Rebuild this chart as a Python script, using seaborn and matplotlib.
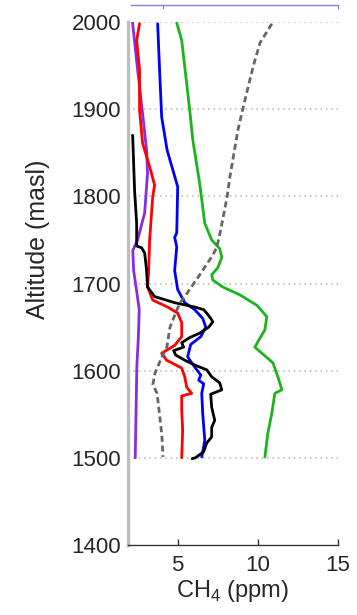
import matplotlib
matplotlib.use("Agg")
import matplotlib.pyplot as plt
import seaborn as sns
import pandas as pd

# ---------------- data ----------------
purple_alt = [2000, 1950, 1900, 1853, 1827, 1781, 1750, 1738, 1715, 1690, 1670, 1640, 1604, 1550, 1500]
purple_ch4 = [2.18, 2.47, 2.78, 3.06, 3.12, 2.94, 2.50, 2.20, 2.25, 2.45, 2.60, 2.55, 2.45, 2.40, 2.35]

red_alt = [1998, 1979, 1945, 1899, 1861, 1834, 1813, 1799, 1750, 1715, 1696, 1681, 1673, 1666,
           1655, 1639, 1629, 1620, 1612, 1603, 1593, 1581, 1574, 1571, 1555, 1532, 1500]
red_ch4 = [2.62, 2.44, 2.62, 2.62, 2.81, 3.25, 3.56, 3.44, 3.25, 3.19, 3.12, 3.44, 4.37, 5.00,
           5.25, 5.25, 4.81, 4.00, 4.31, 5.25, 5.44, 5.56, 5.87, 5.25, 5.25, 5.31, 5.25]

blue_alt = [1998, 1945, 1891, 1853, 1811, 1758, 1753, 1742, 1715, 1693, 1678, 1670, 1660, 1650,
            1639, 1630, 1616, 1609, 1601, 1595, 1589, 1585, 1574, 1551, 1520, 1501]
blue_ch4 = [3.75, 3.87, 4.00, 4.34, 5.00, 4.94, 4.81, 4.94, 4.81, 5.00, 5.44, 6.06, 6.56, 6.75,
            6.44, 5.81, 5.62, 5.87, 6.19, 6.44, 6.31, 6.62, 6.50, 6.56, 6.69, 6.50]

black_alt = [1870, 1807, 1769, 1743, 1741, 1735, 1715, 1696, 1685, 1678, 1673, 1670, 1666, 1660,
             1656, 1650, 1643, 1638, 1632, 1627, 1623, 1618, 1612, 1606, 1601, 1593, 1586, 1578,
             1573, 1558, 1543, 1535, 1524, 1517, 1507, 1500, 1499]
black_ch4 = [2.19, 2.31, 2.44, 2.44, 2.75, 2.94, 3.06, 3.12, 3.56, 4.81, 6.06, 6.62, 6.81, 7.06,
             7.19, 6.94, 6.37, 5.75, 5.25, 5.37, 4.75, 4.87, 5.44, 6.12, 6.81, 7.12, 7.62, 7.75,
             7.06, 7.12, 7.31, 7.12, 7.12, 6.81, 6.62, 6.10, 5.90]

green_alt = [1999, 1979, 1899, 1865, 1815, 1769, 1750, 1740, 1730, 1718, 1710, 1704, 1696, 1687,
             1675, 1662, 1647, 1627, 1620, 1609, 1593, 1578, 1574, 1551, 1528, 1501]
green_ch4 = [4.94, 5.25, 5.75, 5.94, 6.37, 6.69, 7.12, 7.62, 7.75, 7.50, 7.12, 7.19, 7.81, 8.87,
             9.94, 10.56, 10.44, 9.81, 10.25, 10.94, 11.25, 11.50, 11.06, 10.87, 10.62, 10.44]

# dashed profile on the top (blue) axis
co2_alt = [1998, 1976, 1948, 1902, 1876, 1822, 1799, 1758, 1742, 1733, 1719, 1707, 1689, 1678,
           1670, 1650, 1627, 1616, 1597, 1584, 1574, 1547, 1524, 1501]
co2_val = [431.1, 427.7, 425.7, 422.9, 421.4, 419.1, 418.3, 416.3, 415.4, 414.3, 412.0, 410.0,
           406.9, 404.9, 404.0, 402.0, 401.1, 399.7, 397.7, 397.1, 398.3, 399.1, 399.7, 400.0]

y_ticks = [1400, 1500, 1600, 1700, 1800, 1900, 2000]
x_ticks = [5, 10, 15]
top_ticks = [400, 450]

# ---------------- style ----------------
sns.set_style("white")
plt.rcParams['font.family'] = ['Liberation Sans', 'DejaVu Sans']
plt.rcParams['mathtext.fontset'] = 'custom'
plt.rcParams['mathtext.rm'] = 'Liberation Sans'

W, H = 357, 615
fig = plt.figure(figsize=(W / 100, H / 100), dpi=100)
L, R, T, B = 128, 338, 22, 545
ax = fig.add_axes([L / W, 1 - B / H, (R - L) / W, (B - T) / H])

series = [
    (purple_ch4, purple_alt, '#8a2be2'),
    (red_ch4, red_alt, '#ff0000'),
    (blue_ch4, blue_alt, '#0000ff'),
    (black_ch4, black_alt, '#000000'),
    (green_ch4, green_alt, '#1cb41c'),
]

ax.set_xlim(1.9, 15)
ax.set_ylim(1400, 2000)

for g in [1500, 1600, 1700, 1800, 1900, 2000]:
    ax.axhline(g, color='#b5b5b5', lw=1.1, ls=(0, (1, 2.5)), zorder=0)

for xs, ys, c in series:
    df = pd.DataFrame({'ch4': xs, 'alt': ys})
    sns.lineplot(data=df, x='ch4', y='alt', sort=False, estimator=None,
                 color=c, lw=2.0, ax=ax, zorder=3)

ax.set_xticks(x_ticks)
ax.set_yticks(y_ticks)
ax.tick_params(axis='x', direction='in', length=4, width=1, color='#333333',
               labelsize=16, pad=7, top=False, bottom=True)
ax.tick_params(axis='y', length=0, labelsize=16, pad=5)

for s in ['top', 'right']:
    ax.spines[s].set_visible(False)
ax.spines['left'].set_color('#bdbdbd')
ax.spines['left'].set_linewidth(2.4)
ax.spines['bottom'].set_color('#333333')
ax.spines['bottom'].set_linewidth(1.0)

ax.set_xlabel('CH$_4$ (ppm)', fontsize=17, labelpad=2)
ax.set_ylabel('Altitude (masl)', fontsize=18)
ax.yaxis.set_label_coords(-0.37, 0.585)

# top axis for dashed profile
ax2 = ax.twiny()
ax2.set_xlim(390, 450)
ax2.set_ylim(1400, 2000)
df2 = pd.DataFrame({'co2': co2_val, 'alt': co2_alt})
sns.lineplot(data=df2, x='co2', y='alt', sort=False, estimator=None,
             color='#666666', lw=2.0, ls=(0, (2.2, 1.3)), ax=ax2, zorder=2)
ax2.set_xlabel('')
ax2.set_ylabel('')
ax2.set_xticks(top_ticks)
for s in ['left', 'right', 'bottom']:
    ax2.spines[s].set_visible(False)
ax2.spines['top'].set_position(('outward', 12.5))
ax2.spines['top'].set_color('#8080d0')
ax2.spines['top'].set_linewidth(1.0)
ax2.spines['top'].set_bounds(390.8, 450)
ax2.tick_params(axis='x', direction='in', length=3, color='#8080d0',
                labelcolor='#3333cc', labelsize=16, pad=3, top=True, bottom=False)
ax2.tick_params(axis='y', left=False, right=False, labelleft=False, labelright=False)

fig.savefig('out.png', dpi=100)
